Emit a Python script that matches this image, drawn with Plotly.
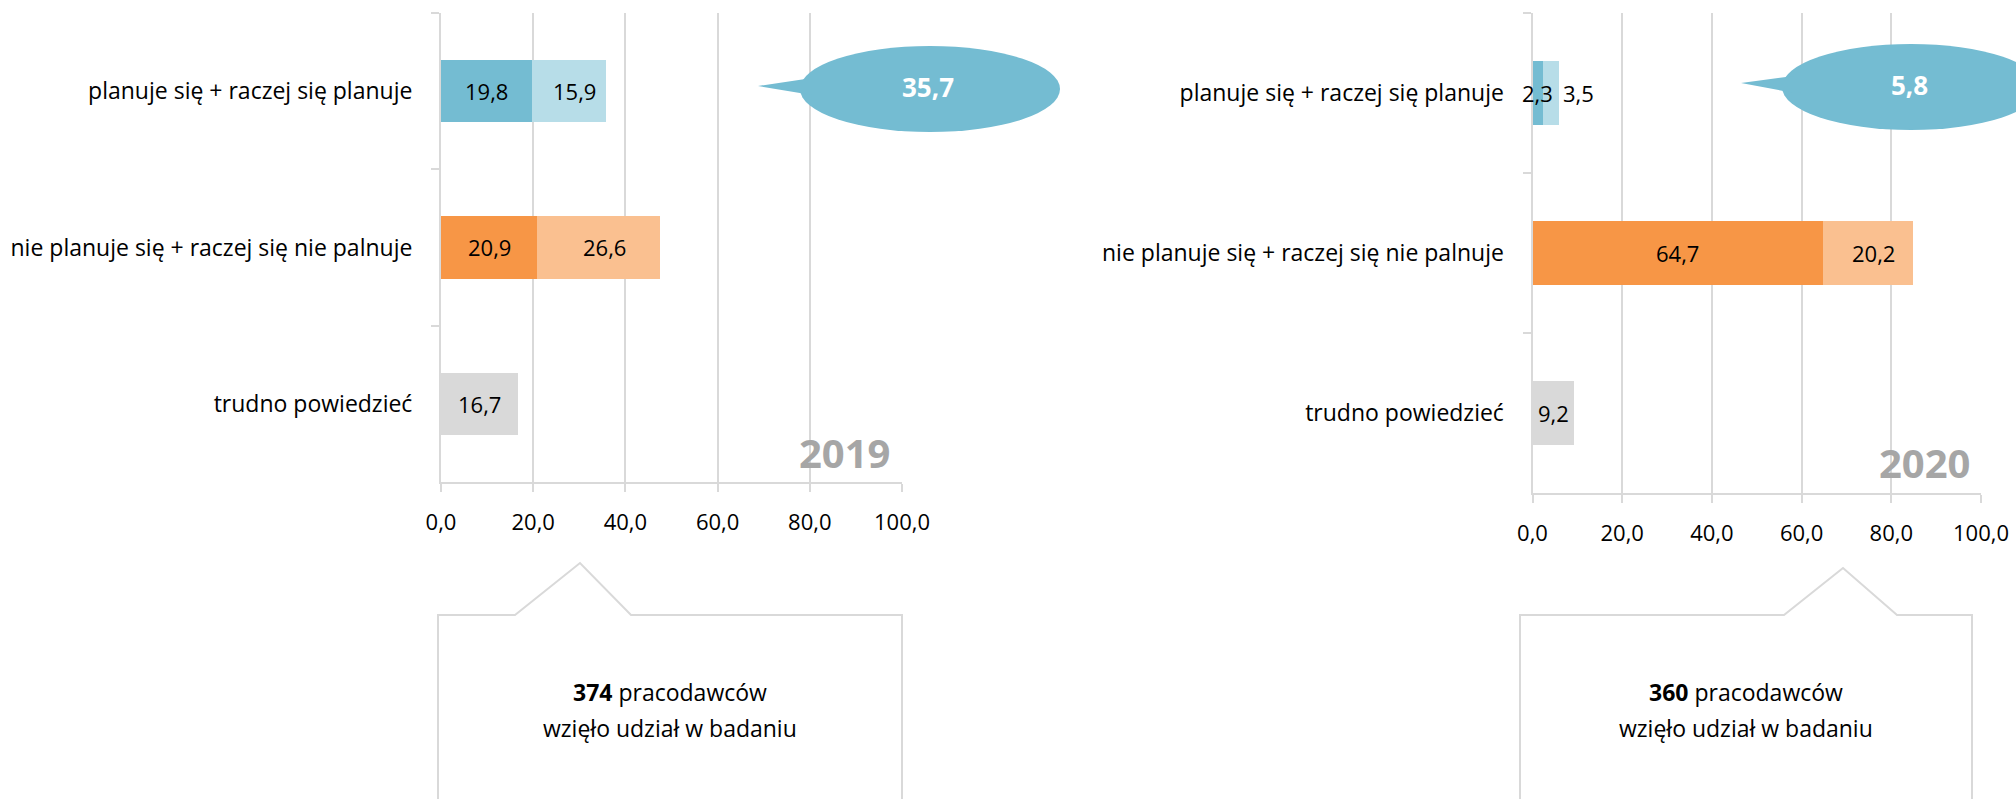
import plotly.graph_objects as go

# ---------------- data ----------------
categories = [
    "planuje się + raczej się planuje",
    "nie planuje się + raczej się nie palnuje",
    "trudno powiedzieć",
]
years = ["2019", "2020"]
strong_2019 = [19.8, 20.9, 16.7]
weak_2019 = [15.9, 26.6, None]
strong_2020 = [2.3, 64.7, 9.2]
weak_2020 = [3.5, 20.2, None]
respondents = [374, 360]
x_ticks = [0, 20, 40, 60, 80, 100]

# ---------------- styles ----------------
dark_colors = ["#74BCD2", "#F79646", "#D9D9D9"]
light_colors = ["#B7DDE8", "#FAC090", "#D9D9D9"]
GRID = "#D9D9D9"
FONT = "Open Sans"
W, H = 2016, 799


def px(x):
    return x / W


def py(y):
    return 1 - y / H


def fmt(v):
    return f"{v:.1f}".replace(".", ",")


panels = [
    dict(year=years[0], strong=strong_2019, weak=weak_2019, n=respondents[0],
         xd=(441, 902), yd=(13, 482), xa="x", ya="y",
         ell=(930, 89, 130, 43), tip=(758, 86), year_pos=(892, 452),
         box=(438, 902, 615, 515, 580, 631, 563)),
    dict(year=years[1], strong=strong_2020, weak=weak_2020, n=respondents[1],
         xd=(1532.5, 1981), yd=(13, 493), xa="x2", ya="y2",
         ell=(1911, 87, 129, 43), tip=(1741, 83), year_pos=(1972, 462),
         box=(1520, 1972, 615, 1784, 1843, 1897, 568)),
]

fig = go.Figure()
annotations = []
shapes = []
layout_axes = {}

for i, p in enumerate(panels):
    fig.add_trace(go.Bar(
        y=categories, x=p["strong"], orientation="h", width=0.4,
        marker=dict(color=dark_colors, line=dict(width=0)),
        xaxis=p["xa"], yaxis=p["ya"], showlegend=False, hoverinfo="skip",
    ))
    fig.add_trace(go.Bar(
        y=categories, x=p["weak"], orientation="h", width=0.4,
        marker=dict(color=light_colors, line=dict(width=0)),
        xaxis=p["xa"], yaxis=p["ya"], showlegend=False, hoverinfo="skip",
    ))

    # bar value labels
    for j, cat in enumerate(categories):
        s = p["strong"][j]
        annotations.append(dict(
            x=s / 2, y=cat, xref=p["xa"], yref=p["ya"], text=fmt(s),
            xanchor="center", yanchor="middle",
            showarrow=False, font=dict(family=FONT, size=22, color="#000000"),
        ))
        w = p["weak"][j]
        if w is not None:
            if w < 8:
                annotations.append(dict(
                    x=s + w, y=cat, xref=p["xa"], yref=p["ya"], text=fmt(w),
                    xanchor="left", yanchor="middle", xshift=2, showarrow=False,
                    font=dict(family=FONT, size=22, color="#000000"),
                ))
            else:
                annotations.append(dict(
                    x=s + w / 2, y=cat, xref=p["xa"], yref=p["ya"], text=fmt(w),
                    xanchor="center", yanchor="middle", xshift=6, showarrow=False,
                    font=dict(family=FONT, size=22, color="#000000"),
                ))

    # callout bubble with total of first category
    cx, cy, rx, ry = p["ell"]
    shapes.append(dict(type="circle", xref="paper", yref="paper",
                       x0=px(cx - rx), x1=px(cx + rx), y0=py(cy + ry), y1=py(cy - ry),
                       fillcolor=dark_colors[0], line=dict(width=0), layer="above"))
    tx, ty = p["tip"]
    bx = cx - rx + 12
    shapes.append(dict(type="path", xref="paper", yref="paper",
                       path=f"M {px(tx)},{py(ty)} L {px(bx)},{py(cy - 11)} L {px(bx)},{py(cy + 6)} Z",
                       fillcolor=dark_colors[0], line=dict(width=0), layer="above"))
    total = p["strong"][0] + p["weak"][0]
    annotations.append(dict(x=px(cx - 2), y=py(cy - 2), xref="paper", yref="paper",
                            xanchor="center", yanchor="middle",
                            text=f"<b>{fmt(total)}</b>", showarrow=False,
                            font=dict(family=FONT, size=26, color="#FFFFFF")))

    # year label
    yx, yy = p["year_pos"]
    annotations.append(dict(x=px(yx), y=py(yy), xref="paper", yref="paper",
                            xanchor="right", yanchor="middle",
                            text=f"<b>{p['year']}</b>", showarrow=False,
                            font=dict(family=FONT, size=40, color="#A6A6A6")))

    # bottom info box
    L, R, T, b1, pk, b2, pkY = p["box"]
    path = (f"M {px(L)},{py(820)} L {px(L)},{py(T)} L {px(b1)},{py(T)} "
            f"L {px(pk)},{py(pkY)} L {px(b2)},{py(T)} L {px(R)},{py(T)} L {px(R)},{py(820)}")
    shapes.append(dict(type="path", xref="paper", yref="paper", path=path,
                       line=dict(color=GRID, width=2)))
    mid = (L + R) / 2
    annotations.append(dict(x=px(mid), y=py(692), xref="paper", yref="paper",
                            xanchor="center", yanchor="middle",
                            text=f"<b>{p['n']}</b> pracodawców", showarrow=False,
                            font=dict(family=FONT, size=23, color="#000000")))
    annotations.append(dict(x=px(mid), y=py(728), xref="paper", yref="paper",
                            xanchor="center", yanchor="middle",
                            text="wzięło udział w badaniu", showarrow=False,
                            font=dict(family=FONT, size=23, color="#000000")))

    xkey = "xaxis" if i == 0 else "xaxis2"
    ykey = "yaxis" if i == 0 else "yaxis2"
    layout_axes[xkey] = dict(
        domain=[px(p["xd"][0]), px(p["xd"][1])], anchor=p["ya"],
        range=[0, 100], tickvals=x_ticks, tickformat=".1f",
        showgrid=True, gridcolor=GRID, gridwidth=2, zeroline=False,
        showline=True, linecolor=GRID, linewidth=2,
        ticks="outside", ticklen=8, tickcolor=GRID, tickwidth=2,
        tickfont=dict(family=FONT, size=22, color="#000000"),
        ticklabelstandoff=12, fixedrange=True, automargin=False,
    )
    layout_axes[ykey] = dict(
        domain=[py(p["yd"][1]), py(p["yd"][0])], anchor=p["xa"],
        type="category", categoryorder="array", categoryarray=categories,
        autorange="reversed", showgrid=False, zeroline=False,
        showline=True, linecolor=GRID, linewidth=2,
        ticks="outside", tickson="boundaries", ticklen=8, tickcolor=GRID, tickwidth=2,
        tickfont=dict(family=FONT, size=23, color="#000000"),
        ticklabelstandoff=22, fixedrange=True, automargin=False,
    )

fig.update_layout(
    width=W, height=H, margin=dict(l=0, r=0, t=0, b=0, autoexpand=False),
    paper_bgcolor="#FFFFFF", plot_bgcolor="#FFFFFF",
    barmode="stack", bargap=0.6, separators=",.",
    annotations=annotations, shapes=shapes,
    font=dict(family=FONT, color="#000000"),
    **layout_axes,
)

fig.write_html("out.html", config={"displayModeBar": False},
               post_script="document.body.style.margin='0';")
